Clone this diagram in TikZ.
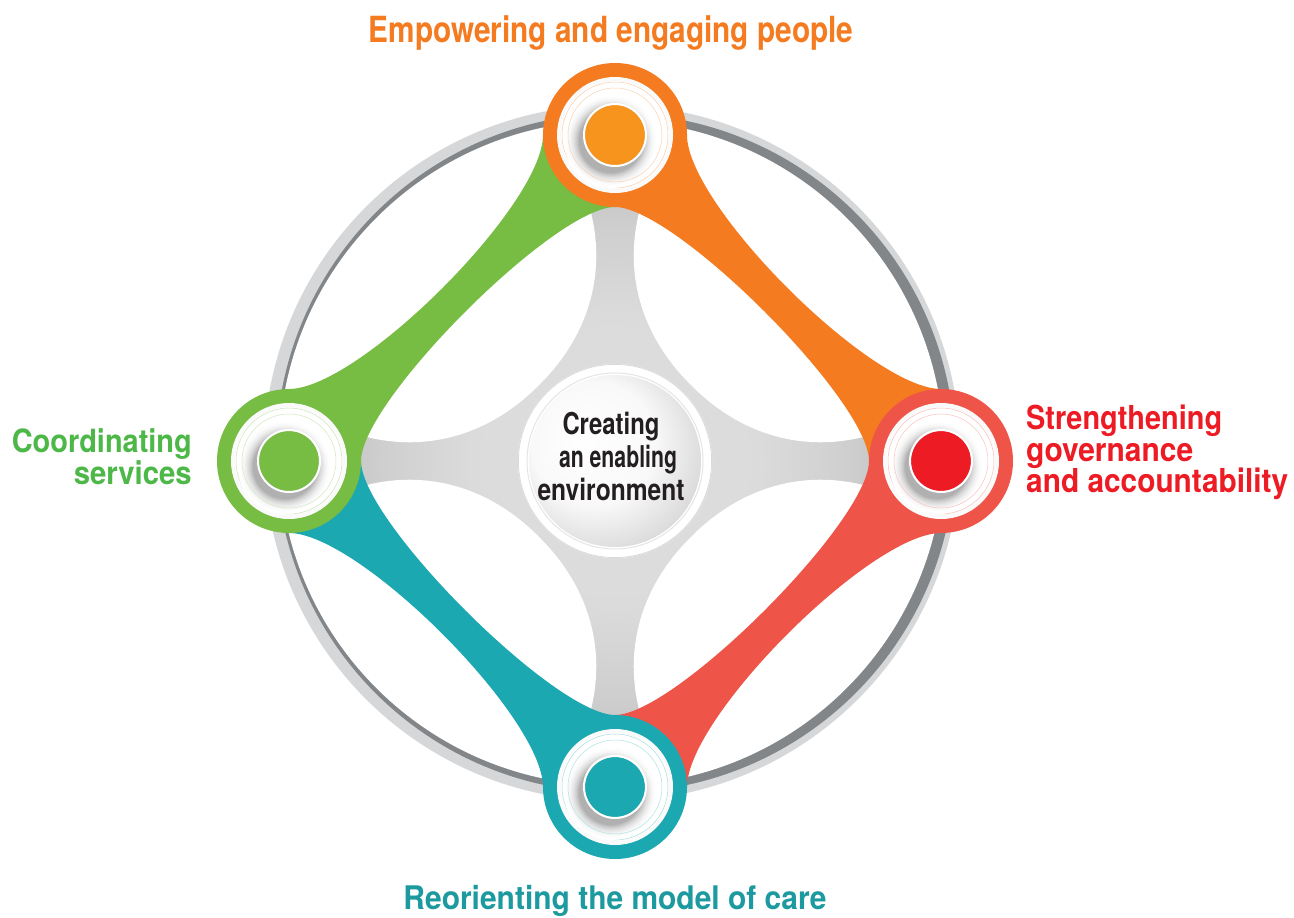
\documentclass[tikz,border=0pt]{standalone}
\usepackage{fontspec}
\usepackage{graphicx}
\setmainfont{TeX Gyre Heros}
\definecolor{cOrange}{HTML}{F47B20}
\definecolor{cOrangeIn}{HTML}{F7941D}
\definecolor{cGreen}{HTML}{77BC43}
\definecolor{cGreenTxt}{HTML}{4DB848}
\definecolor{cRed}{HTML}{EE5448}
\definecolor{cRedIn}{HTML}{ED1C24}
\definecolor{cTeal}{HTML}{1BA8B1}
\definecolor{cTealTxt}{HTML}{1D9AA0}
\definecolor{ringDark}{HTML}{838689}
\definecolor{ringLight}{HTML}{D6D7D8}
\definecolor{txtDark}{HTML}{231F20}
\pgfdeclareradialshading{starshade}{\pgfpoint{0bp}{0bp}}{color(0bp)=(gray!25); color(11bp)=(gray!28); color(18bp)=(gray!38); color(27bp)=(gray!60); color(35bp)=(gray!72); color(50bp)=(gray!72)}
\pgfdeclareradialshading{discshade}{\pgfpoint{-10bp}{8bp}}{color(0bp)=(white); color(18bp)=(white!95!gray); color(36bp)=(gray!40); color(50bp)=(gray!45)}
\newcommand\hubdisc[3]{%
  \fill[#2] (#1) circle[radius=72];
  \fill[white!96!gray] (#1) circle[radius=58];
  \fill[white] (#1) circle[radius=54];
  \draw[#2!40, line width=0.5] (#1) circle[radius=53];
  \foreach \k in {0,...,15} {%
    \pgfmathsetmacro\rr{47-\k}%
    \pgfmathtruncatemacro\pp{\k*\k/3.6}%
    \fill[gray!\pp] ([shift={(-4,6)}]#1) circle[radius=\rr];
  }
  \draw[#2!35, line width=0.5] (#1) circle[radius=47];
  \fill[#3] (#1) circle[radius=30];
  \draw[white, line width=2] (#1) circle[radius=31];
}
\begin{document}
\begin{tikzpicture}[x=1pt,y=-1pt,
  bandshape/.style={insert path={(-326,0) -- (-326,-72) .. controls (-256,-72) and (-72,-256) .. (-72,-326) -- (0,-326) -- (0,-254) .. controls (-60,-254) and (-254,-60) .. (-254,0) -- cycle}},
  holeshape/.style={insert path={(0,-326) -- (-31,-271) .. controls (-3,-196) and (-25,-126) .. (-76,-76) .. controls (-126,-25) and (-196,-3) .. (-271,-31) -- (-326,0) -- cycle}},
  lbl/.style={inner sep=0pt}
]
\useasboundingbox (0,0) rectangle (1294,918);
\fill[white] (0,0) rectangle (1294,918);
\coordinate (C) at (615,461);
\coordinate (L) at (289,461);
\coordinate (T) at (615,135);
\coordinate (R) at (941,461);
\coordinate (B) at (615,787);
% outer ring
\fill[ringLight] (612,453) circle[radius=348];
\fill[ringDark] (615.5,453) circle[radius=339.5];
\fill[white] (611.5,453) circle[radius=332.5];
% gray star
\shade[shading=starshade] (T) -- (R) -- (B) -- (L) -- cycle;
\foreach \ang in {0,-90,-180,-270} {
  \begin{scope}[shift={(615,461)}, rotate=\ang]
    \fill[white, holeshape];
  \end{scope}
}
% center disc
\fill[white] (C) circle[radius=97];
\draw[gray!30, line width=0.8] (C) circle[radius=96.6];
\draw[gray!20, line width=1] (C) circle[radius=88];
\shade[shading=discshade] (C) circle[radius=86];
% bands
\foreach \ang/\col in {0/cGreen,-90/cOrange,-180/cRed,-270/cTeal} {
  \begin{scope}[shift={(615,461)}, rotate=\ang]
    \fill[\col, bandshape];
  \end{scope}
}
% hubs
\hubdisc{L}{cGreen}{cGreen}
\hubdisc{T}{cOrange}{cOrangeIn}
\hubdisc{R}{cRed}{cRedIn}
\hubdisc{B}{cTeal}{cTeal}
% labels
\node[lbl, anchor=base, text=cOrange, font=\fontsize{36}{36}\selectfont\bfseries] (tEmp) at (611,42) {\resizebox{485pt}{\height}{Empowering and engaging people}};
\node[lbl, anchor=base west, text=cRedIn, font=\fontsize{33}{33}\selectfont\bfseries] (tStr1) at (1026,429) {\resizebox{196pt}{\height}{Strengthening}};
\node[lbl, anchor=base west, text=cRedIn, font=\fontsize{33}{33}\selectfont\bfseries] (tStr2) at (1026,461) {\resizebox{167pt}{\height}{governance}};
\node[lbl, anchor=base west, text=cRedIn, font=\fontsize{33}{33}\selectfont\bfseries] (tStr3) at (1026,492) {\resizebox{262pt}{\height}{and accountability}};
\node[lbl, anchor=base east, text=cGreenTxt, font=\fontsize{32}{32}\selectfont\bfseries] (tCo1) at (192,452) {\resizebox{180pt}{\height}{Coordinating}};
\node[lbl, anchor=base east, text=cGreenTxt, font=\fontsize{32}{32}\selectfont\bfseries] (tCo2) at (192,484) {\resizebox{118pt}{\height}{services}};
\node[lbl, anchor=base, text=cTealTxt, font=\fontsize{32.5}{32.5}\selectfont\bfseries] (tReo) at (615,909) {\resizebox{423pt}{\height}{Reorienting the model of care}};
\node[lbl, anchor=base, text=txtDark, font=\fontsize{30}{30}\selectfont\bfseries] (tC1) at (611,434) {\resizebox{97pt}{\height}{Creating}};
\node[lbl, anchor=base, text=txtDark, font=\fontsize{30}{30}\selectfont\bfseries] (tC2) at (618,467) {\resizebox{118pt}{\height}{an enabling}};
\node[lbl, anchor=base, text=txtDark, font=\fontsize{30}{30}\selectfont\bfseries] (tC3) at (611,500) {\resizebox{147pt}{\height}{environment}};
\end{tikzpicture}
\end{document}
